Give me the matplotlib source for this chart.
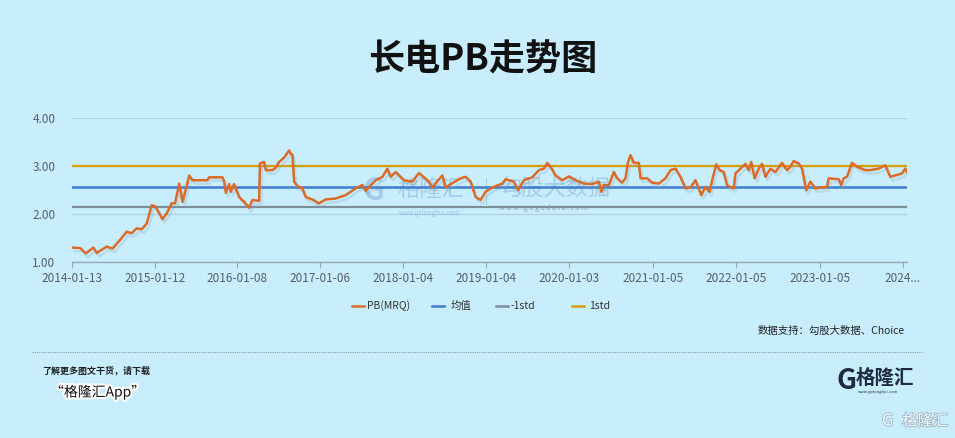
import matplotlib
matplotlib.use('Agg')
import matplotlib.pyplot as plt
from matplotlib.lines import Line2D
import matplotlib.patheffects as pe
import pandas as pd

plt.rcParams['font.family'] = ['Noto Sans CJK SC', 'DejaVu Sans']

# decimal year of each read point
t = [2014.04, 2014.13, 2014.20, 2014.29, 2014.33, 2014.45, 2014.52, 2014.61, 2014.69, 2014.75,
     2014.81, 2014.87, 2014.93, 2014.99, 2015.03, 2015.05, 2015.12, 2015.17, 2015.23, 2015.27,
     2015.32, 2015.36, 2015.41, 2015.44, 2015.48, 2015.66, 2015.68, 2015.84, 2015.86, 2015.88,
     2015.92, 2015.94, 2015.98, 2016.04, 2016.10, 2016.16, 2016.20, 2016.28, 2016.29, 2016.34,
     2016.36, 2016.44, 2016.48, 2016.52, 2016.58, 2016.64, 2016.66, 2016.68, 2016.70, 2016.74,
     2016.80, 2016.84, 2016.92, 2017.00, 2017.08, 2017.20, 2017.32, 2017.44, 2017.52, 2017.56,
     2017.68, 2017.76, 2017.82, 2017.86, 2017.92, 2018.02, 2018.12, 2018.20, 2018.32, 2018.36,
     2018.48, 2018.52, 2018.60, 2018.70, 2018.76, 2018.82, 2018.88, 2018.94, 2019.00, 2019.08,
     2019.20, 2019.24, 2019.34, 2019.39, 2019.46, 2019.56, 2019.64, 2019.70, 2019.74, 2019.78,
     2019.84, 2019.92, 2020.00, 2020.08, 2020.18, 2020.28, 2020.36, 2020.39, 2020.42, 2020.48,
     2020.54, 2020.58, 2020.64, 2020.68, 2020.71, 2020.74, 2020.78, 2020.84, 2020.86, 2020.94,
     2021.00, 2021.08, 2021.16, 2021.22, 2021.28, 2021.34, 2021.40, 2021.46, 2021.52, 2021.59,
     2021.64, 2021.69, 2021.72, 2021.77, 2021.81, 2021.86, 2021.90, 2021.98, 2022.00, 2022.06,
     2022.12, 2022.16, 2022.19, 2022.23, 2022.28, 2022.32, 2022.36, 2022.42, 2022.48, 2022.56,
     2022.62, 2022.66, 2022.70, 2022.76, 2022.80, 2022.85, 2022.90, 2022.96, 2023.04, 2023.10,
     2023.12, 2023.24, 2023.27, 2023.30, 2023.34, 2023.40, 2023.46, 2023.56, 2023.62, 2023.72,
     2023.80, 2023.86, 2023.92, 2024.00, 2024.04, 2024.06]
pb = [1.30, 1.29, 1.18, 1.30, 1.19, 1.32, 1.28, 1.46, 1.63, 1.60,
      1.70, 1.68, 1.80, 2.18, 2.16, 2.11, 1.89, 2.01, 2.22, 2.22,
      2.63, 2.25, 2.58, 2.80, 2.70, 2.70, 2.76, 2.76, 2.67, 2.44,
      2.62, 2.46, 2.62, 2.35, 2.25, 2.13, 2.29, 2.27, 3.05, 3.08,
      2.91, 2.91, 2.96, 3.08, 3.17, 3.32, 3.25, 3.23, 2.67, 2.58,
      2.53, 2.35, 2.30, 2.22, 2.30, 2.32, 2.39, 2.53, 2.60, 2.48,
      2.70, 2.77, 2.94, 2.77, 2.87, 2.70, 2.67, 2.85, 2.67, 2.55,
      2.80, 2.55, 2.64, 2.74, 2.77, 2.67, 2.35, 2.29, 2.46, 2.55,
      2.63, 2.72, 2.67, 2.49, 2.70, 2.76, 2.91, 2.94, 3.06, 2.98,
      2.80, 2.70, 2.78, 2.70, 2.63, 2.62, 2.67, 2.46, 2.60, 2.60,
      2.87, 2.74, 2.65, 2.74, 3.08, 3.22, 3.06, 3.06, 2.74, 2.74,
      2.65, 2.63, 2.74, 2.91, 2.94, 2.77, 2.53, 2.55, 2.70, 2.39,
      2.56, 2.46, 2.70, 3.03, 2.91, 2.87, 2.59, 2.53, 2.84, 2.94,
      3.04, 2.91, 3.08, 2.74, 2.94, 3.04, 2.77, 2.94, 2.87, 3.06,
      2.91, 2.98, 3.10, 3.05, 2.94, 2.49, 2.67, 2.53, 2.55, 2.56,
      2.74, 2.72, 2.60, 2.74, 2.77, 3.06, 2.98, 2.91, 2.91, 2.94,
      3.01, 2.77, 2.80, 2.84, 2.94, 2.87]

mean_v = 2.565
minus_std = 2.135
plus_std = 2.995

tick_dates = ['2014-01-13', '2015-01-12', '2016-01-08', '2017-01-06', '2018-01-04',
              '2019-01-04', '2020-01-03', '2021-01-05', '2022-01-05', '2023-01-05', '2024-01-05']
tick_labels = ['2014-01-13', '2015-01-12', '2016-01-08', '2017-01-06', '2018-01-04',
               '2019-01-04', '2020-01-03', '2021-01-05', '2022-01-05', '2023-01-05', '2024...']
y_ticks = [1.0, 2.0, 3.0, 4.0]
y_labels = ['1.00', '2.00', '3.00', '4.00']

legend_names = ['PB(MRQ)', '均值', '-1std', '1std']
c_pb, c_mean, c_minus, c_plus = '#dc6a28', '#3f7bd0', '#7e8e98', '#d6a000'


def dec_year(s):
    d = pd.Timestamp(s)
    a = pd.Timestamp(year=d.year, month=1, day=1)
    b = pd.Timestamp(year=d.year + 1, month=1, day=1)
    return d.year + (d - a) / (b - a)


tick_pos = [dec_year(s) for s in tick_dates]

bg = '#c8eefd'
fig = plt.figure(figsize=(9.55, 4.38), dpi=100, facecolor=bg)
ax = fig.add_axes([0.0754, 0.4018, 0.8743, 0.3295], facecolor=bg)

ax.set_xlim(tick_pos[0], 2024.06)
ax.set_ylim(1.0, 4.0)
ax.set_yticks(y_ticks)
ax.set_yticklabels(y_labels)
ax.set_xticks(tick_pos)
ax.set_xticklabels(tick_labels)
ax.grid(axis='y', color='#afd3e6', lw=1.0)
ax.set_axisbelow(True)
for s in ['top', 'right', 'left']:
    ax.spines[s].set_visible(False)
ax.spines['bottom'].set_color('#98a8b3')
ax.spines['bottom'].set_linewidth(1.0)
ax.tick_params(axis='y', length=0, pad=12, labelsize=8.5, labelcolor='#555f66')
ax.tick_params(axis='x', length=4, color='#98a8b3', pad=3, labelsize=8.5, labelcolor='#555f66')

# watermarks
wm = '#5c8fc4'
ax.text(2017.52, 2.47, 'G', fontsize=22, color=wm, alpha=0.35, ha='left', va='center', fontweight='bold')
ax.text(2017.94, 2.50, '格隆汇', fontsize=16, color=wm, alpha=0.35, ha='left', va='center')
ax.text(2018.33, 2.02, 'www.gelonghui.com', fontsize=4.5, color=wm, alpha=0.4, ha='center', va='center')
ax.axvline(2019.00, ymin=0.40, ymax=0.58, color=wm, alpha=0.3, lw=0.8)
ax.text(2019.16, 2.52, '勾股大数据', fontsize=16, color=wm, alpha=0.35, ha='left', va='center')
ax.text(2019.16, 2.13, 'w w w . g o g u d a t a . c o m', fontsize=5, color='#3f5f80', alpha=0.5,
        ha='left', va='center')

ax.axhline(plus_std, color=c_plus, lw=1.6, zorder=3)
ax.axhline(mean_v, color=c_mean, lw=1.8, zorder=3)
ax.axhline(minus_std, color=c_minus, lw=1.6, zorder=3)
ax.plot(t, pb, color=c_pb, lw=1.8, zorder=4, solid_joinstyle='round',
        path_effects=[pe.SimpleLineShadow(offset=(1.5, -2.5), shadow_color='#8aa0b0', alpha=0.25),
                      pe.Normal()])

# title
fig.text(0.505, 1 - 60 / 438, '长电PB走势图', fontsize=26, fontweight='bold', ha='center', va='center',
         color='#111111')

# legend
ly = 1 - 306 / 438
items = [(352, 367, c_pb), (432, 451, c_mean), (496, 511, c_minus), (572, 589, c_plus)]
for (lx, tx, c), name in zip(items, legend_names):
    fig.add_artist(Line2D([lx / 955, (lx + 12) / 955], [ly, ly], color=c, lw=1.8, transform=fig.transFigure))
    fig.text(tx / 955, ly, name, fontsize=7.5, color='#333333', ha='left', va='center')

fig.text(905 / 955, 1 - 331 / 438, '数据支持：勾股大数据、Choice', fontsize=7.5, color='#222222',
         ha='right', va='center')

# footer
fig.add_artist(Line2D([32 / 955, 922 / 955], [1 - 352 / 438, 1 - 352 / 438], color='#8a9aa5', lw=0.8,
                      ls=(0, (1, 1)), transform=fig.transFigure))
fig.text(42 / 955, 1 - 371 / 438, '了解更多图文干货，请下载', fontsize=6.5, color='#222222', ha='left',
         va='center', fontweight='bold')
fig.text(50 / 955, 1 - 392 / 438, '“格隆汇App”', fontsize=10, color='#111111', ha='left', va='center',
         path_effects=[pe.withStroke(linewidth=3, foreground='white')])
fig.text(836 / 955, 1 - 381 / 438, 'G', fontsize=20, fontweight='bold', color='#1c2a44', ha='left',
         va='center')
fig.text(856 / 955, 1 - 378 / 438, '格隆汇', fontsize=14, fontweight='bold', color='#1c2a44', ha='left',
         va='center')
fig.text(858 / 955, 1 - 392 / 438, 'www.gelonghui.com', fontsize=3, color='#1c2a44', ha='left',
         va='center')
fig.text(948 / 955, 1 - 421 / 438, '格隆汇', fontsize=11, color='#f4fbff', ha='right', va='center',
         path_effects=[pe.withStroke(linewidth=1.2, foreground='#9fb5c4')])
fig.text(882 / 955, 1 - 421 / 438, 'G', fontsize=12, color='#f4fbff', ha='left', va='center',
         path_effects=[pe.withStroke(linewidth=1.2, foreground='#9fb5c4')])

fig.savefig('out.png', dpi=100, facecolor=bg)
